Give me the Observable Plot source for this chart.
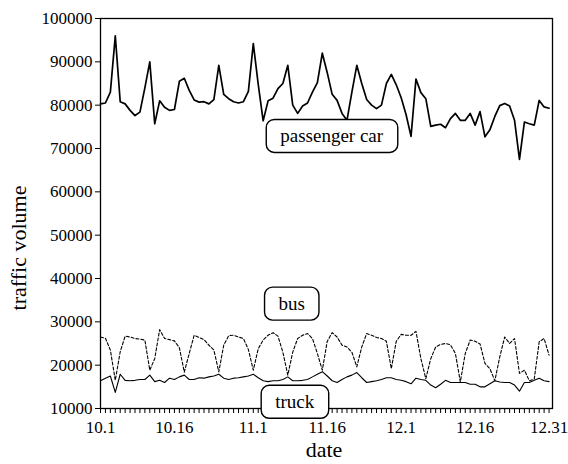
<!DOCTYPE html>
<html>
<head>
<meta charset="utf-8">
<script src="https://cdn.jsdelivr.net/npm/d3@7"></script>
<script src="https://cdn.jsdelivr.net/npm/@observablehq/plot@0.6"></script>
<style>
  html, body { margin: 0; padding: 0; background: #fff; }
  svg { display: block; }
  svg, svg text { font-family: "Liberation Serif", "DejaVu Serif", serif !important; }
</style>
</head>
<body>
<script>
// Day index 0 = Oct 1 ... 91 = Dec 31
const tickDays = [0, 15, 31, 46, 61, 76, 91];
const tickLabels = ["10.1", "10.16", "11.1", "11.16", "12.1", "12.16", "12.31"];
const yTicks = [10000, 20000, 30000, 40000, 50000, 60000, 70000, 80000, 90000, 100000];

const passengerCar = [
  80300, 80500, 83000, 96000, 80800, 80300, 78800, 77600, 78400, 84000,
  90000, 75700, 81000, 79500, 78800, 79000, 85500, 86200, 83400, 81200,
  80700, 80800, 80300, 81300, 89200, 82500, 81500, 80800, 80500, 80800,
  83200, 94200, 84800, 76400, 81000, 81600, 83800, 85000, 89200, 80000,
  78100, 79800, 80500, 83000, 85200, 92000, 87500, 82500, 81100, 78100,
  76500, 83000, 89200, 85000, 81300, 80000, 79200, 80000, 85000, 87100,
  84700, 81700, 77800, 72800, 86000, 82900, 81500, 75100, 75400, 75600,
  74800, 76900, 78100, 76500, 76500, 78100, 75400, 78500, 72700, 74300,
  77400, 79900, 80400, 79800, 76500, 67500, 76100, 75700, 75400, 81100,
  79600, 79300
];
const bus = [
  26500, 26200, 23500, 16500, 23100, 26700, 26500, 26150, 26000, 25800,
  18850, 21500, 28200, 26150, 25900, 25600, 24000, 18400, 22700, 26900,
  26400, 25900, 24600, 23500, 18450, 24600, 26800, 26900, 26500, 26150,
  23600, 18850, 23800, 25800, 26900, 27500, 26700, 23000, 17700, 23000,
  26150, 26900, 27300, 26150, 22700, 18850, 25500, 27500, 26500, 24600,
  24200, 23000, 19600, 24200, 27300, 26900, 26400, 26150, 25500, 19200,
  25500, 27100, 26900, 26900, 27800, 21500, 16900, 21500, 24200, 24800,
  25000, 24700, 22700, 16150, 22700, 25800, 25500, 24900, 20400, 19200,
  16400, 21900, 26500, 25000, 26150, 18100, 18850, 16400, 16800, 25400,
  26150, 22300
];
const truck = [
  16400, 17000, 17500, 13700, 17900, 16500, 16400, 16500, 16700, 16700,
  17700, 16200, 16500, 16000, 17000, 16700, 17300, 17700, 16700, 16700,
  17100, 17000, 17300, 17500, 17900, 17000, 16700, 17000, 17100, 17300,
  17500, 17900, 17100, 16400, 16200, 16400, 16400, 16700, 17300, 16400,
  16400, 16500, 16700, 17300, 17900, 18500, 17500, 16400, 16000, 16700,
  17300, 17700, 18300, 17100, 16000, 16200, 16400, 16700, 17100, 17100,
  16700, 16500, 16200, 15700, 17000, 16700, 16500, 15400, 14800, 15600,
  16500, 16000, 16000, 16000, 16000, 15600, 15600, 15000, 15000, 15700,
  16400, 16100, 16000, 16000, 15400, 14000, 16000, 16000, 16500, 17000,
  16400, 16200
];

// Series label annotations (text, day, value)
const labelText = ["passenger car", "bus", "truck"];
const labelDay = [46.9, 38.8, 39.4];
const labelValue = [72800, 34100, 11450];

const days = passengerCar.map((_, i) => i);
const rows = [
  ...days.map(d => ({day: d, value: passengerCar[d], series: "passenger car"})),
  ...days.map(d => ({day: d, value: bus[d], series: "bus"})),
  ...days.map(d => ({day: d, value: truck[d], series: "truck"}))
];
const labels = labelText.map((t, i) => ({text: t, day: labelDay[i], value: labelValue[i]}));
const tickMap = new Map(tickDays.map((d, i) => [d, tickLabels[i]]));

const FONT = "Liberation Serif, DejaVu Serif, serif";

const plot = Plot.plot({
  width: 568,
  height: 464,
  marginLeft: 100,
  marginRight: 16,
  marginTop: 18,
  marginBottom: 56,
  style: {fontFamily: FONT, fontSize: "17px", background: "white", color: "black"},
  x: {
    domain: [0, 91.7],
    ticks: days,
    tickFormat: d => tickMap.has(d) ? tickMap.get(d) : "",
    tickSize: 5,
    tickPadding: 7,
    label: null
  },
  y: {
    domain: [10000, 100000],
    ticks: yTicks,
    tickFormat: d3.format("d"),
    tickSize: 5,
    tickPadding: 3,
    label: null
  },
  marks: [
    Plot.frame({stroke: "black", strokeWidth: 1.3}),
    Plot.line(rows.filter(r => r.series === "truck"), {x: "day", y: "value", stroke: "black", strokeWidth: 1.1}),
    Plot.line(rows.filter(r => r.series === "bus"), {x: "day", y: "value", stroke: "black", strokeWidth: 1.1, strokeDasharray: "3,2"}),
    Plot.line(rows.filter(r => r.series === "passenger car"), {x: "day", y: "value", stroke: "black", strokeWidth: 1.7}),
    Plot.text(labels, {x: "day", y: "value", text: "text", fontSize: 19, fill: "black"})
  ]
});

document.body.appendChild(plot);

// Rounded boxes behind the series labels
const svgNS = "http://www.w3.org/2000/svg";
const textGroups = plot.querySelectorAll('g[aria-label="text"]');
const textGroup = textGroups[textGroups.length - 1];
const boxGroup = document.createElementNS(svgNS, "g");
for (const t of textGroup.querySelectorAll("text")) {
  const b = t.getBBox();
  const ctm = t.getAttribute("transform");
  const r = document.createElementNS(svgNS, "rect");
  const padX = 14, padY = 6;
  r.setAttribute("x", b.x - padX);
  r.setAttribute("y", b.y - padY);
  r.setAttribute("width", b.width + 2 * padX);
  r.setAttribute("height", b.height + 2 * padY);
  r.setAttribute("rx", 8);
  r.setAttribute("ry", 8);
  r.setAttribute("fill", "white");
  r.setAttribute("stroke", "black");
  r.setAttribute("stroke-width", 1.4);
  if (ctm) r.setAttribute("transform", ctm);
  boxGroup.appendChild(r);
}
if (textGroup.getAttribute("transform")) boxGroup.setAttribute("transform", textGroup.getAttribute("transform"));
plot.appendChild(boxGroup);
plot.appendChild(textGroup);

// Axis titles
const yTitle = document.createElementNS(svgNS, "text");
yTitle.setAttribute("transform", "translate(26,248) rotate(-90)");
yTitle.setAttribute("text-anchor", "middle");
yTitle.setAttribute("font-size", "22");
yTitle.setAttribute("fill", "black");
yTitle.textContent = "traffic volume";
plot.appendChild(yTitle);

const xTitle = document.createElementNS(svgNS, "text");
xTitle.setAttribute("x", 324);
xTitle.setAttribute("y", 457);
xTitle.setAttribute("text-anchor", "middle");
xTitle.setAttribute("font-size", "22");
xTitle.setAttribute("fill", "black");
xTitle.textContent = "date";
plot.appendChild(xTitle);
</script>
</body>
</html>
